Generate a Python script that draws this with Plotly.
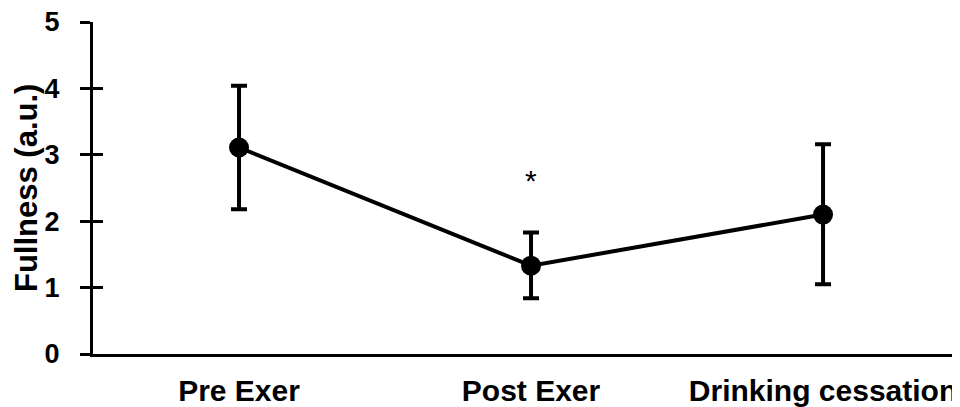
import plotly.graph_objects as go

categories = ["Pre Exer", "Post Exer", "Drinking cessation"]
fullness_mean = [3.11, 1.33, 2.10]
err_upper = [4.04, 1.83, 3.16]
err_lower = [2.18, 0.84, 1.05]
sig_marks = ["", "*", ""]
sig_y = [None, 2.61, None]
y_ticks = [0, 1, 2, 3, 4, 5]
y_title = "Fullness (a.u.)"

xpos = list(range(len(categories)))
err_plus = [u - m for u, m in zip(err_upper, fullness_mean)]
err_minus = [m - l for m, l in zip(fullness_mean, err_lower)]

FONT = "Arial, Liberation Sans, sans-serif"

fig = go.Figure()
fig.add_trace(go.Scatter(
    x=xpos, y=fullness_mean, mode="lines+markers",
    line=dict(color="black", width=4),
    marker=dict(color="black", size=20),
    error_y=dict(type="data", symmetric=False, array=err_plus, arrayminus=err_minus,
                 color="black", thickness=4, width=8),
    showlegend=False,
))
fig.add_trace(go.Scatter(x=[xpos[0]], y=[y_ticks[0]], yaxis="y2", mode="markers",
                         marker=dict(opacity=0), showlegend=False, hoverinfo="skip"))

for xi, s, sy in zip(xpos, sig_marks, sig_y):
    if s:
        fig.add_annotation(x=xi, y=sy, xref="x", yref="y", text=s, showarrow=False,
                           font=dict(family=FONT, size=30, color="black"))

fig.add_annotation(x=-67 / 867, y=0.5, xref="paper", yref="paper", text=y_title,
                   textangle=-90, showarrow=False, xanchor="center", yanchor="middle",
                   font=dict(family=FONT, size=31, color="black", weight="bold"))

# page body has an 8px margin, so the figure is sized to end at the window edge
fig.update_layout(
    width=952, height=399,
    margin=dict(l=85, r=0, t=14, b=53),
    plot_bgcolor="white", paper_bgcolor="white",
    font=dict(family=FONT, color="black"),
    xaxis=dict(
        range=[-0.5, 2.469], tickvals=xpos, ticktext=categories, automargin=False,
        showline=True, linecolor="black", linewidth=3, showgrid=False, zeroline=False,
        ticks="", ticklabelstandoff=8, ticklabeloverflow="allow",
        tickfont=dict(family=FONT, size=30, color="black", weight="bold"),
    ),
    yaxis=dict(
        range=[0, 5.0001], tickvals=y_ticks, showline=True, linecolor="black", linewidth=3,
        showgrid=False, zeroline=False, ticks="outside", ticklen=10, tickwidth=3,
        tickcolor="black", automargin=False, ticklabelstandoff=15,
        ticklabeloverflow="allow",
        tickfont=dict(family=FONT, size=27, color="black", weight="bold"),
    ),
    yaxis2=dict(
        range=[0, 5.0001], tickvals=y_ticks, overlaying="y", side="left", showline=False,
        showgrid=False, zeroline=False, ticks="inside", ticklen=10, tickwidth=3,
        tickcolor="black", showticklabels=False, automargin=False,
    ),
)

fig.write_html("out.html")
